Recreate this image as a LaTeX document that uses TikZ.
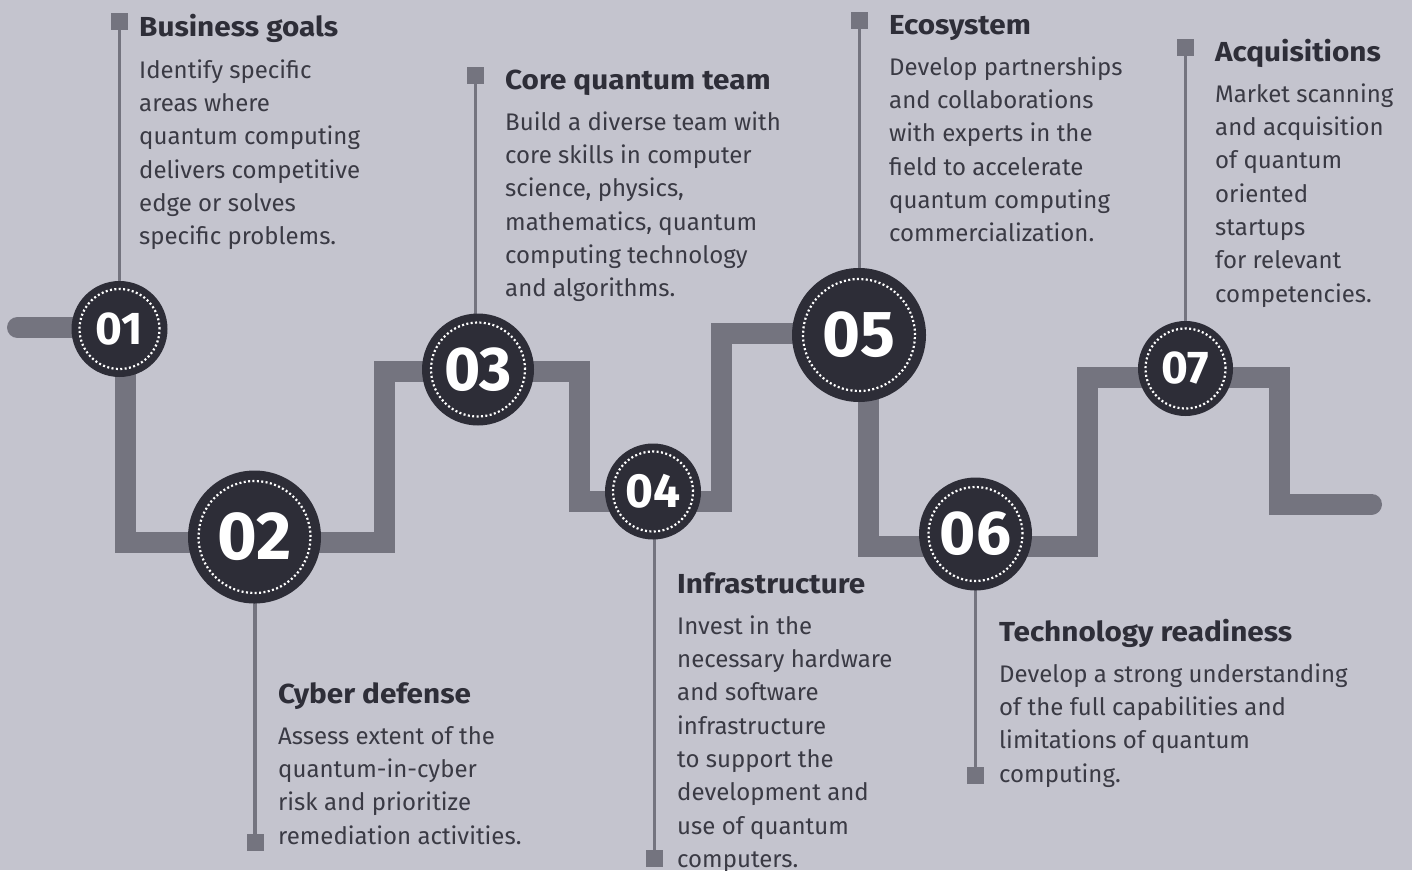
\documentclass[tikz,border=0pt]{standalone}
\usepackage{fontspec}
\setmainfont{Fira Sans}
\newfontfamily\ttlfont{Fira Sans}[FakeStretch=1.08]
\definecolor{bgc}{HTML}{C4C4CE}
\definecolor{trackc}{HTML}{74747F}
\definecolor{discc}{HTML}{2D2D37}
\definecolor{inkc}{HTML}{2E2E38}
\definecolor{bodyc}{HTML}{3A3A44}
\tikzset{
  track/.style={draw=trackc, line width=21pt, line cap=round, line join=miter},
  disc/.style={circle, fill=discc, inner sep=0pt, text=white, font=\bfseries},
  lead/.style={draw=trackc, line width=3.5pt},
  sq/.style={rectangle, fill=trackc, minimum size=17pt, inner sep=0pt},
  ttl/.style={anchor=base west, inner sep=0pt, text=inkc, font=\ttlfont\bfseries\fontsize{27.5}{30}\selectfont},
  bdy/.style={anchor=north west, inner sep=0pt, align=left, text=bodyc, font=\fontsize{24}{33.3}\selectfont},
  dotring/.style={draw=white, line width=2.2pt, dash pattern=on 2pt off 2.4pt}
}
\newcommand{\fs}[1]{\fontsize{#1}{#1}\selectfont}
\begin{document}
\begin{tikzpicture}[x=1pt,y=-1pt]
\fill[bgc] (0,0) rectangle (1412,870);
\useasboundingbox (0,0) rectangle (1412,870);

% track
\coordinate (t0) at (17.5,327.5);
\coordinate (t9) at (1371.5,504);
\draw[track] (t0) -- (125.5,327.5) -- (125.5,542) -- (384,542) -- (384,371)
  -- (579.5,371) -- (579.5,501) -- (721.5,501) -- (721.5,333.5) -- (868,333.5)
  -- (868,546.5) -- (1087.5,546.5) -- (1087.5,377) -- (1279.5,377) -- (1279.5,504) -- (t9);

% squares
\node[sq] (s1) at (119.5,21.5) {};
\node[sq] (s2) at (255,842) {};
\node[sq] (s3) at (475.5,75.5) {};
\node[sq] (s4) at (654.5,858) {};
\node[sq] (s5) at (859.5,20.7) {};
\node[sq] (s6) at (975.5,775.5) {};
\node[sq] (s7) at (1185.5,47.5) {};

% circle positions
\coordinate (p1) at (119.5,329);
\coordinate (p2) at (254.5,537);
\coordinate (p3) at (478,369.5);
\coordinate (p4) at (653,491.5);
\coordinate (p5) at (859,335);
\coordinate (p6) at (975.5,534);
\coordinate (p7) at (1185.5,368.5);

% leader lines
\draw[lead] (s1.center) -- (s1.center |- p1);
\draw[lead] (s2.center) -- (s2.center |- p2);
\draw[lead] (s3.center) -- (s3.center |- p3);
\draw[lead] (s4.center) -- (s4.center |- p4);
\draw[lead] (s5.center) -- (s5.center |- p5);
\draw[lead] (s6.center) -- (s6.center |- p6);
\draw[lead] (s7.center) -- (s7.center |- p7);

% discs
\node[disc, minimum size=96pt]  (c1) at (p1) {\fs{46}01};
\node[disc, minimum size=133pt] (c2) at (p2) {\fs{68}02};
\node[disc, minimum size=112pt] (c3) at (p3) {\fs{62}03};
\node[disc, minimum size=96pt]  (c4) at (p4) {\fs{48}04};
\node[disc, minimum size=134pt] (c5) at (p5) {\fs{65}05};
\node[disc, minimum size=113pt] (c6) at (p6) {\fs{62}06};
\node[disc, minimum size=95pt]  (c7) at (p7) {\fs{46}07};

\draw[dotring] (c1.center) circle[radius=40pt];
\draw[dotring] (c2.center) circle[radius=56pt];
\draw[dotring] (c3.center) circle[radius=47pt];
\draw[dotring] (c4.center) circle[radius=40pt];
\draw[dotring] (c5.center) circle[radius=56pt];
\draw[dotring] (c6.center) circle[radius=47pt];
\draw[dotring] (c7.center) circle[radius=40pt];

% texts
\node[ttl] (h1) at (139,36) {Business goals};
\node[bdy] (b1) at (139,58) {\rule{0pt}{20pt}Identify specific\\areas where\\quantum computing\\delivers competitive\\edge or solves\\specific problems.};

\node[ttl] (h2) at (278,703) {Cyber defense};
\node[bdy] (b2) at (278,724) {\rule{0pt}{20pt}Assess extent of the\\quantum-in-cyber\\risk and prioritize\\remediation activities.};

\node[ttl] (h3) at (505,89) {Core quantum team};
\node[bdy] (b3) at (505,110) {\rule{0pt}{20pt}Build a diverse team with\\core skills in computer\\science, physics,\\mathematics, quantum\\computing technology\\and algorithms.};

\node[ttl] (h4) at (677,593) {Infrastructure};
\node[bdy] (b4) at (677,614) {\rule{0pt}{20pt}Invest in the\\necessary hardware\\and software\\infrastructure\\to support the\\development and\\use of quantum\\computers.};

\node[ttl] (h5) at (889,34) {Ecosystem};
\node[bdy] (b5) at (889,55) {\rule{0pt}{20pt}Develop partnerships\\and collaborations\\with experts in the\\field to accelerate\\quantum computing\\commercialization.};

\node[ttl] (h6) at (999,641) {Technology readiness};
\node[bdy] (b6) at (999,662) {\rule{0pt}{20pt}Develop a strong understanding\\of the full capabilities and\\limitations of quantum\\computing.};

\node[ttl] (h7) at (1215,61) {Acquisitions};
\node[bdy] (b7) at (1215,82) {\rule{0pt}{20pt}Market scanning\\and acquisition\\of quantum\\oriented\\startups\\for relevant\\competencies.};
\end{tikzpicture}
\end{document}
